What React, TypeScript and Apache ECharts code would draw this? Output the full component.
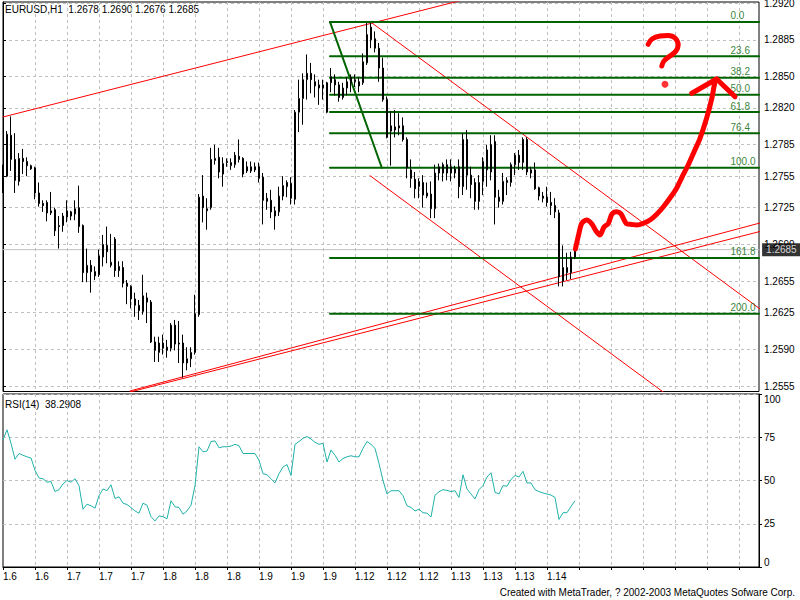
import React, { useEffect, useRef } from 'react';
import * as echarts from 'echarts';

const FONT = "'Liberation Sans', sans-serif";
const FS = 10;
const GRID_COLOR = '#c0c0c0';
const FIB_COLOR = '#006400';

const headerText = 'EURUSD,H1  1.2678 1.2690 1.2676 1.2685';
const rsiHeader = 'RSI(14)  38.2908';
const footerText = 'Created with MetaTrader, ? 2002-2003 MetaQuotes Sofware Corp.';

const dateLabels = ['1.6', '1.6', '1.7', '1.7', '1.7', '1.8', '1.8', '1.8', '1.9', '1.9', '1.9', '1.12', '1.12', '1.12', '1.13', '1.13', '1.13', '1.14'];
const BARS_PER_LABEL = 8;
const TOTAL_SLOTS = 190;

const priceTicks = [1.292, 1.2885, 1.285, 1.282, 1.2785, 1.2755, 1.2725, 1.269, 1.2655, 1.2625, 1.259, 1.2555];

const open = [
  1.2741, 1.2755, 1.2794, 1.2771, 1.2750, 1.2772, 1.2769, 1.2765, 1.2763, 1.2739,
  1.2729, 1.2730, 1.2720, 1.2723, 1.2708, 1.2708, 1.2716, 1.2721, 1.2719, 1.2725,
  1.2708, 1.2663, 1.2670, 1.2664, 1.2661, 1.2678, 1.2689, 1.2670, 1.2695, 1.2665,
  1.2668, 1.2653, 1.2650, 1.2638, 1.2632, 1.2626, 1.2639, 1.2635, 1.2597, 1.2587,
  1.2591, 1.2592, 1.2591, 1.2613, 1.2596, 1.2596, 1.2577, 1.2581, 1.2587, 1.2623,
  1.2736, 1.2722, 1.2725, 1.2770, 1.2773, 1.2757, 1.2769, 1.2765, 1.2766, 1.2774,
  1.2772, 1.2764, 1.2760, 1.2764, 1.2764, 1.2754, 1.2731, 1.2732, 1.2722, 1.2721,
  1.2736, 1.2745, 1.2748, 1.2733, 1.2816, 1.2829, 1.2847, 1.2853, 1.2845, 1.2842,
  1.2839, 1.2844, 1.2844, 1.2847, 1.2842, 1.2830, 1.2839, 1.2849, 1.2845, 1.2845,
  1.2844, 1.2863, 1.2897, 1.2886, 1.2877, 1.2858, 1.2828, 1.2798, 1.2799, 1.2801,
  1.2803, 1.2790, 1.2761, 1.2752, 1.2745, 1.2749, 1.2739, 1.2738, 1.2724, 1.2758,
  1.2758, 1.2758, 1.2758, 1.2758, 1.2764, 1.2745, 1.2790, 1.2756, 1.2749, 1.2731,
  1.2750, 1.2761, 1.2785, 1.2788, 1.2735, 1.2731, 1.2749, 1.2749, 1.2766, 1.2775,
  1.2768, 1.2790, 1.2758, 1.2761, 1.2744, 1.2736, 1.2735, 1.2730, 1.2727, 1.2720,
  1.2655, 1.2663, 1.2663, 1.2678,
];
const high = [
  1.2766, 1.2798, 1.2812, 1.2796, 1.2777, 1.2781, 1.2773, 1.2766, 1.2764, 1.2749,
  1.2732, 1.2732, 1.2740, 1.2725, 1.2717, 1.2720, 1.2732, 1.2722, 1.2732, 1.2746,
  1.2709, 1.2686, 1.2675, 1.2669, 1.2685, 1.2699, 1.2707, 1.2700, 1.2697, 1.2674,
  1.2674, 1.2656, 1.2651, 1.2644, 1.2637, 1.2661, 1.2644, 1.2637, 1.2602, 1.2602,
  1.2604, 1.2599, 1.2615, 1.2618, 1.2617, 1.2604, 1.2592, 1.2592, 1.2642, 1.2738,
  1.2756, 1.2734, 1.2782, 1.2785, 1.2782, 1.2773, 1.2772, 1.2772, 1.2778, 1.2790,
  1.2773, 1.2769, 1.2769, 1.2768, 1.2768, 1.2758, 1.2739, 1.2742, 1.2726, 1.2745,
  1.2755, 1.2751, 1.2754, 1.2818, 1.2847, 1.2853, 1.2871, 1.2863, 1.2852, 1.2847,
  1.2847, 1.2845, 1.2858, 1.2852, 1.2845, 1.2844, 1.2849, 1.2852, 1.2852, 1.2849,
  1.2872, 1.2901, 1.2901, 1.2893, 1.2882, 1.2868, 1.2831, 1.2817, 1.2818, 1.2815,
  1.2811, 1.2792, 1.2771, 1.2759, 1.2753, 1.2756, 1.2749, 1.2750, 1.2766, 1.2767,
  1.2768, 1.2771, 1.2771, 1.2765, 1.2771, 1.2796, 1.2799, 1.2764, 1.2753, 1.2756,
  1.2773, 1.2785, 1.2794, 1.2794, 1.2742, 1.2758, 1.2754, 1.2768, 1.2777, 1.2780,
  1.2792, 1.2792, 1.2764, 1.2768, 1.2745, 1.2740, 1.2745, 1.2740, 1.2734, 1.2723,
  1.2689, 1.2682, 1.2683, 1.2690,
];
const low = [
  1.2739, 1.2754, 1.2760, 1.2739, 1.2746, 1.2757, 1.2755, 1.2761, 1.2733, 1.2726,
  1.2721, 1.2712, 1.2718, 1.2698, 1.2686, 1.2702, 1.2711, 1.2713, 1.2713, 1.2701,
  1.2654, 1.2654, 1.2644, 1.2656, 1.2659, 1.2669, 1.2672, 1.2668, 1.2659, 1.2659,
  1.2649, 1.2633, 1.2629, 1.2621, 1.2618, 1.2623, 1.2615, 1.2596, 1.2578, 1.2578,
  1.2585, 1.2582, 1.2588, 1.2589, 1.2577, 1.2563, 1.2570, 1.2573, 1.2585, 1.2621,
  1.2711, 1.2704, 1.2723, 1.2766, 1.2753, 1.2745, 1.2764, 1.2761, 1.2763, 1.2768,
  1.2754, 1.2758, 1.2758, 1.2759, 1.2749, 1.2709, 1.2723, 1.2715, 1.2704, 1.2717,
  1.2732, 1.2735, 1.2728, 1.2728, 1.2797, 1.2804, 1.2828, 1.2834, 1.2830, 1.2823,
  1.2828, 1.2815, 1.2835, 1.2832, 1.2826, 1.2828, 1.2832, 1.2835, 1.2840, 1.2835,
  1.2842, 1.2861, 1.2877, 1.2873, 1.2845, 1.2826, 1.2791, 1.2765, 1.2792, 1.2794,
  1.2788, 1.2753, 1.2744, 1.2734, 1.2734, 1.2725, 1.2734, 1.2715, 1.2715, 1.2751,
  1.2750, 1.2751, 1.2750, 1.2753, 1.2734, 1.2737, 1.2742, 1.2734, 1.2723, 1.2723,
  1.2737, 1.2745, 1.2751, 1.2709, 1.2725, 1.2728, 1.2737, 1.2745, 1.2756, 1.2761,
  1.2761, 1.2756, 1.2753, 1.2742, 1.2732, 1.2730, 1.2726, 1.2718, 1.2715, 1.2650,
  1.2650, 1.2656, 1.2657, 1.2676,
];
const close = [
  1.2754, 1.2795, 1.2771, 1.2751, 1.2772, 1.2769, 1.2765, 1.2762, 1.2739, 1.2729,
  1.2727, 1.2720, 1.2722, 1.2703, 1.2707, 1.2717, 1.2722, 1.2717, 1.2724, 1.2707,
  1.2663, 1.2670, 1.2664, 1.2660, 1.2679, 1.2690, 1.2683, 1.2673, 1.2665, 1.2669,
  1.2653, 1.2650, 1.2638, 1.2632, 1.2627, 1.2641, 1.2635, 1.2597, 1.2589, 1.2596,
  1.2596, 1.2589, 1.2613, 1.2595, 1.2595, 1.2577, 1.2581, 1.2587, 1.2624, 1.2735,
  1.2725, 1.2724, 1.2771, 1.2772, 1.2759, 1.2767, 1.2768, 1.2768, 1.2775, 1.2771,
  1.2757, 1.2760, 1.2764, 1.2761, 1.2753, 1.2732, 1.2734, 1.2721, 1.2717, 1.2736,
  1.2746, 1.2749, 1.2734, 1.2816, 1.2829, 1.2847, 1.2853, 1.2847, 1.2841, 1.2839,
  1.2842, 1.2816, 1.2850, 1.2842, 1.2830, 1.2839, 1.2845, 1.2844, 1.2847, 1.2841,
  1.2864, 1.2890, 1.2885, 1.2877, 1.2858, 1.2828, 1.2792, 1.2803, 1.2802, 1.2803,
  1.2790, 1.2763, 1.2753, 1.2743, 1.2750, 1.2737, 1.2736, 1.2724, 1.2758, 1.2764,
  1.2766, 1.2766, 1.2764, 1.2762, 1.2745, 1.2790, 1.2756, 1.2747, 1.2731, 1.2749,
  1.2769, 1.2780, 1.2759, 1.2735, 1.2731, 1.2750, 1.2751, 1.2766, 1.2775, 1.2768,
  1.2790, 1.2759, 1.2761, 1.2743, 1.2736, 1.2734, 1.2730, 1.2727, 1.2721, 1.2659,
  1.2668, 1.2668, 1.2678, 1.2685,
];

const rsi = [
  73.6, 79.3, 71.5, 62.3, 65.6, 64.6, 63.7, 63.0, 55.9, 51.4,
  51.0, 49.0, 49.4, 43.6, 44.7, 48.0, 50.0, 49.0, 51.0, 47.0,
  33.4, 36.3, 35.4, 34.0, 41.2, 45.1, 44.1, 47.5, 39.6, 40.6,
  36.9, 36.1, 34.4, 32.4, 31.1, 36.9, 35.7, 29.1, 26.6, 29.5,
  29.1, 27.9, 38.3, 34.8, 34.4, 30.5, 32.4, 35.7, 47.1, 69.5,
  66.6, 67.0, 72.5, 72.9, 68.9, 69.5, 69.5, 69.9, 70.9, 70.1,
  65.6, 65.6, 65.6, 65.6, 61.7, 53.9, 53.3, 51.0, 48.6, 53.9,
  57.8, 59.2, 52.9, 70.9, 72.5, 74.4, 75.4, 74.0, 72.1, 70.9,
  71.5, 60.7, 67.6, 64.6, 60.7, 62.7, 63.7, 64.3, 63.7, 63.7,
  68.6, 72.5, 70.9, 68.6, 59.8, 50.0, 42.2, 44.1, 44.1, 44.1,
  41.2, 35.4, 34.4, 32.4, 33.4, 31.4, 31.1, 28.9, 41.5, 43.5,
  44.7, 44.3, 43.6, 44.1, 40.2, 53.3, 45.1, 42.2, 39.3, 44.7,
  47.1, 52.0, 54.5, 43.2, 42.2, 47.1, 46.7, 50.6, 52.9, 52.0,
  55.3, 48.6, 48.6, 44.7, 43.6, 42.8, 42.2, 41.6, 40.2, 27.5,
  31.4, 31.4, 35.0, 38.2908,
];

const bidPrice = 1.2685;

// Fibonacci anchors (bar index, price)
const fibTop = [81.75, 1.2902];
const fibBottom = [94.7, 1.2763];
const fibLevels = [0, 23.6, 38.2, 50, 61.8, 76.4, 100, 161.8, 200];
const fibLabelBar = 181.75;
const fibEndBar = 189;

// Trend lines (bar index, price)
const trendLines = [
  [[0, 1.28114], [118, 1.29259]],
  [[31.75, 1.25503], [189.25, 1.27104]],
  [[31.75, 1.25493], [189.25, 1.27023]],
  [[91.75, 1.29024], [189.25, 1.26285]],
  [[91.75, 1.27555], [180, 1.25072]],
];

// Hand drawn annotation (bar index, price)
const arrowCurve = [
  [143.1, 1.26856], [143.9, 1.2699], [144.7, 1.27101], [145.9, 1.27132], [147.25, 1.27094],
  [148.25, 1.27028], [149.25, 1.2699], [150.25, 1.27066], [151.3, 1.27097], [152.25, 1.2719],
  [153.4, 1.27212], [154.5, 1.2719], [155.9, 1.27097], [157.25, 1.2709], [158.5, 1.27085],
  [160, 1.27099], [161.75, 1.27132], [163.5, 1.2719], [165.1, 1.27259], [166.75, 1.27342],
  [168.4, 1.27435], [169.75, 1.27542], [171.3, 1.27657], [172.75, 1.27781], [174.25, 1.27911],
  [175.9, 1.28102], [177.2, 1.28292], [178, 1.28448], [178.4, 1.28476],
];
const arrowHead = [[172.2, 1.2834], [178.4, 1.28476], [183, 1.28308]];
const questionHook = [
  [161.3, 1.28807], [162.25, 1.28857], [164.25, 1.28886], [166.25, 1.28891], [168, 1.28867],
  [168.8, 1.288], [168.25, 1.28743], [166.75, 1.28695], [165.25, 1.28648], [164.7, 1.286],
];
const questionDot = [165.5, 1.28426];

export default function App() {
  const ref = useRef<HTMLDivElement>(null);
  useEffect(() => {
    if (!ref.current) return;
    const chart = echarts.init(ref.current, null, { renderer: 'svg' });
    const slots = Array.from({ length: TOTAL_SLOTS }, (_, i) => String(i));
    const candles = open.map((o, i) => [o, close[i], low[i], high[i]]);
    const range = fibTop[1] - fibBottom[1];
    const fibPrices = fibLevels.map((l) => fibTop[1] - (l / 100) * range);
    const dash = { color: GRID_COLOR, type: [3, 3] as any, width: 1 };
    const isGridSlot = (i: number) => i > 0 && i % BARS_PER_LABEL === 0;
    const lastSlot = TOTAL_SLOTS - 1;

    const lineSeries = (data: any[], color: string, width: number, extra: any = {}) => ({
      type: 'line',
      xAxisIndex: 1,
      yAxisIndex: 0,
      data,
      symbol: 'none',
      silent: true,
      clip: true,
      lineStyle: { color, width, cap: 'round', join: 'round' },
      z: 3,
      ...extra,
    });

    const series: any[] = [
      // bid line
      lineSeries([[0, bidPrice], [lastSlot, bidPrice]], GRID_COLOR, 1, { z: 2 }),
      {
        type: 'scatter',
        xAxisIndex: 1,
        yAxisIndex: 0,
        silent: true,
        symbolSize: 1,
        itemStyle: { color: 'transparent' },
        z: 7,
        data: [{ value: [lastSlot - 0.1, bidPrice], name: bidPrice.toFixed(4) }],
        label: {
          show: true,
          position: 'right',
          distance: 3,
          formatter: (pr: any) => pr.name,
          backgroundColor: '#000',
          color: '#fff',
          padding: [2, 4, 1, 4],
          fontFamily: FONT,
          fontSize: FS,
        },
      },
      {
        type: 'candlestick',
        xAxisIndex: 0,
        yAxisIndex: 0,
        data: candles,
        barWidth: 2,
        z: 4,
        itemStyle: {
          color: '#fff',
          color0: '#000',
          borderColor: '#000',
          borderColor0: '#000',
          borderWidth: 1,
        },
      },
      ...trendLines.map((pts) => lineSeries(pts, '#ff0000', 1)),
      lineSeries([fibTop, fibBottom], FIB_COLOR, 2),
      ...fibPrices.map((p) => lineSeries([[fibTop[0], p], [fibEndBar, p]], FIB_COLOR, 2)),
      {
        type: 'scatter',
        xAxisIndex: 1,
        yAxisIndex: 0,
        silent: true,
        symbolSize: 1,
        itemStyle: { color: 'transparent' },
        z: 5,
        data: fibPrices.map((p, i) => ({ value: [fibLabelBar, p], name: fibLevels[i].toFixed(1) })),
        label: {
          show: true,
          position: 'right',
          distance: 0,
          offset: [0, -6],
          formatter: (pr: any) => pr.name,
          color: FIB_COLOR,
          fontFamily: FONT,
          fontSize: FS,
        },
      },
      lineSeries(arrowCurve, '#ff0000', 5, { smooth: 0.3, z: 6 }),
      lineSeries(arrowHead, '#ff0000', 5, { z: 6 }),
      lineSeries(questionHook, '#ff0000', 5, { smooth: 0.4, z: 6 }),
      {
        type: 'scatter',
        xAxisIndex: 1,
        yAxisIndex: 0,
        silent: true,
        symbolSize: 7,
        itemStyle: { color: '#ff0000' },
        data: [questionDot],
        z: 6,
      },
      {
        type: 'line',
        xAxisIndex: 2,
        yAxisIndex: 1,
        data: rsi,
        symbol: 'none',
        silent: true,
        lineStyle: { color: '#20b2aa', width: 1 },
      },
    ];

    const gridBase = {
      left: 3,
      width: 756,
      show: true,
      borderColor: '#000',
      borderWidth: 1,
      containLabel: false,
      outerBoundsMode: 'none',
    };

    const option: any = {
      animation: false,
      backgroundColor: '#ffffff',
      textStyle: { fontFamily: FONT, fontSize: FS },
      grid: [
        { ...gridBase, top: 2, height: 389.5 },
        { ...gridBase, top: 394, height: 173 },
      ],
      xAxis: [
        {
          type: 'category',
          gridIndex: 0,
          data: slots,
          boundaryGap: false,
          axisLine: { show: false },
          axisTick: { show: false },
          axisLabel: { show: false },
          splitLine: { show: true, interval: (i: number) => isGridSlot(i), lineStyle: dash },
        },
        { type: 'value', gridIndex: 0, min: 0, max: lastSlot, show: false },
        {
          type: 'category',
          gridIndex: 1,
          data: slots,
          boundaryGap: false,
          axisLine: { show: true, lineStyle: { color: '#000' } },
          axisTick: {
            show: true,
            length: 3,
            interval: (i: number) => i % BARS_PER_LABEL === 0,
            lineStyle: { color: '#000' },
          },
          axisLabel: {
            show: true,
            interval: (i: number) => i % BARS_PER_LABEL === 0 && i / BARS_PER_LABEL < dateLabels.length,
            formatter: (_v: string, i: number) => dateLabels[i / BARS_PER_LABEL] || '',
            align: 'left',
            margin: 4,
            color: '#000',
            fontFamily: FONT,
            fontSize: FS,
          },
          splitLine: { show: true, interval: (i: number) => isGridSlot(i), lineStyle: dash },
        },
      ],
      yAxis: [
        {
          type: 'value',
          gridIndex: 0,
          position: 'right',
          min: 1.25498,
          max: 1.2921,
          axisLine: { show: true, lineStyle: { color: '#000' } },
          axisTick: { show: true, length: 3, customValues: priceTicks, lineStyle: { color: '#000' } },
          axisLabel: {
            customValues: priceTicks,
            formatter: (v: number) => v.toFixed(4),
            margin: 5,
            color: '#000',
            fontFamily: FONT,
            fontSize: FS,
          },
          splitLine: { show: true, lineStyle: dash },
        },
        {
          type: 'value',
          gridIndex: 1,
          position: 'right',
          min: 0,
          max: 100,
          interval: 25,
          axisLine: { show: true, lineStyle: { color: '#000' } },
          axisTick: { show: true, length: 3, lineStyle: { color: '#000' } },
          axisLabel: {
            margin: 5,
            color: '#000',
            fontFamily: FONT,
            fontSize: FS,
            verticalAlignMaxLabel: 'top',
            verticalAlignMinLabel: 'bottom',
          },
          splitLine: { show: true, lineStyle: dash },
        },
      ],
      graphic: [
        { type: 'text', left: 5, top: 4, style: { text: headerText, fill: '#000', font: `${FS}px ${FONT}` } },
        { type: 'text', left: 5, top: 399, style: { text: rsiHeader, fill: '#000', font: `${FS}px ${FONT}` } },
        { type: 'text', right: 5, top: 587, style: { text: footerText, fill: '#000', font: `${FS}px ${FONT}` } },
      ],
      series,
    };
    chart.setOption(option);
    return () => chart.dispose();
  }, []);
  return (
    <div
      ref={ref}
      style={{ position: 'fixed', left: 0, top: 0, width: 800, height: 600, background: '#fff' }}
    />
  );
}
